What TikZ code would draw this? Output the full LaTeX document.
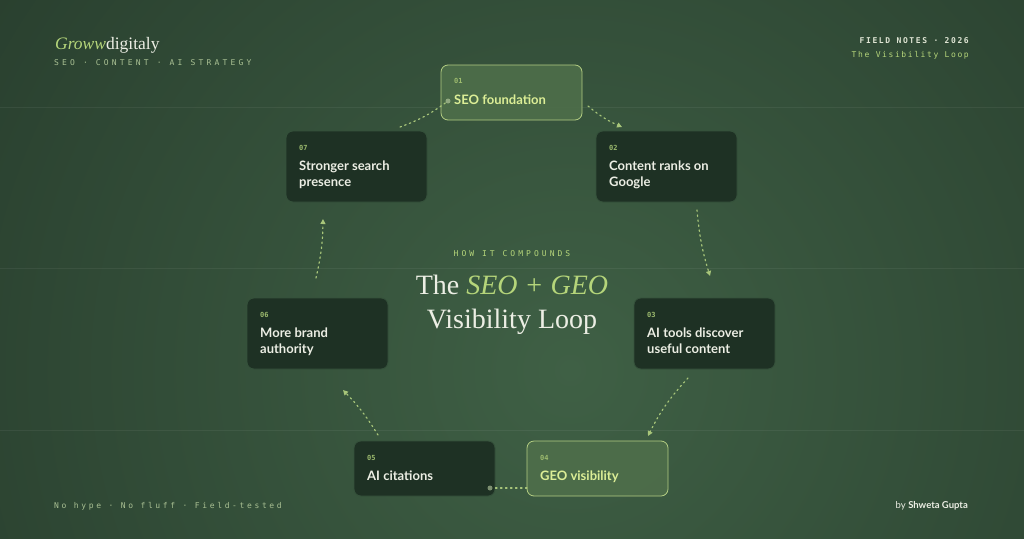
\documentclass[tikz,border=0pt]{standalone}
\usepackage{fontspec}
\setmainfont{Liberation Serif}
\newfontfamily\boxsans{Lato}
\newfontfamily\monoTag[LetterSpace=40]{DejaVu Sans Mono}
\newfontfamily\monoHow[LetterSpace=38]{DejaVu Sans Mono}
\newfontfamily\monoFoot[LetterSpace=33]{DejaVu Sans Mono}
\newfontfamily\monoMid[LetterSpace=20]{DejaVu Sans Mono}
\newfontfamily\monoNum{DejaVu Sans Mono}
\usetikzlibrary{arrows.meta}
\definecolor{bgin}{HTML}{3F6045}
\definecolor{bgout}{HTML}{16231B}
\definecolor{darkfill}{HTML}{1E3124}
\definecolor{darkedge}{HTML}{35513B}
\definecolor{hifill}{HTML}{4E6E4A}
\definecolor{hiedge}{HTML}{B3CD82}
\definecolor{hitext}{HTML}{DCEE96}
\definecolor{accent}{HTML}{B5D57A}
\definecolor{numcol}{HTML}{9DBB6E}
\definecolor{whitish}{HTML}{ECEEE4}
\definecolor{linec}{HTML}{A8C67A}
\definecolor{monocol}{HTML}{A9C093}
\tikzset{
  darkbox/.style={draw=darkedge, fill=darkfill, line width=0.8pt, rounded corners=7pt,
    minimum width=141pt, minimum height=71pt, inner sep=0pt, outer sep=0pt, anchor=north west},
  hibox/.style={draw=hiedge, fill=hifill, fill opacity=0.9, line width=0.8pt, rounded corners=7pt,
    minimum width=141pt, minimum height=55pt, inner sep=0pt, outer sep=0pt, anchor=north west},
  numlbl/.style={anchor=base west, inner sep=0pt, text=numcol, font=\monoNum\bfseries\fontsize{7}{8}\selectfont},
  ttl/.style={anchor=base west, inner sep=0pt, align=left, text=whitish, font=\boxsans\bfseries\fontsize{13}{16}\selectfont},
  hittl/.style={ttl, text=hitext},
  flow/.style={draw=linec, line width=1.2pt, dash pattern=on 1.5pt off 3.5pt, line cap=round},
  tip/.style={-{Triangle[length=5pt,width=5pt]}},
  guide/.style={draw=white, opacity=0.06, line width=0.8pt},
  glow/.style={circle, fill=linec!60!white, inner sep=0pt, minimum size=5pt, opacity=0.55},
}
\begin{document}
\begin{tikzpicture}[x=1pt,y=-1pt]
\useasboundingbox (0,0) rectangle (1024,538);
\begin{scope}
\clip (0,0) rectangle (1024,538);
\shade[inner color=bgin, outer color=bgout] (570,370) circle (1300);
\end{scope}
% faint guide lines
\draw[guide] (0,107) -- (1024,107);
\draw[guide] (0,268) -- (1024,268);
\draw[guide] (0,430) -- (1024,430);

% header / footer texts
\node[anchor=base west, inner sep=0pt, font=\fontsize{17.5}{20}\selectfont] (brand) at (55,49)
  {\textcolor{accent}{\itshape Groww}\textcolor{whitish}{digitaly}};
\node[anchor=base west, inner sep=0pt, text=monocol, font=\monoTag\fontsize{8}{9}\selectfont] (tag) at (54,65)
  {SEO · CONTENT · AI STRATEGY};
\node[anchor=base east, inner sep=0pt, text=whitish!80!monocol, font=\monoMid\bfseries\fontsize{8}{9}\selectfont] (field) at (969,43)
  {FIELD NOTES · 2026};
\node[anchor=base east, inner sep=0pt, text=accent, font=\monoMid\fontsize{8}{9}\selectfont] (vis) at (969,57)
  {The Visibility Loop};
\node[anchor=base, inner sep=0pt, text=accent, font=\monoHow\fontsize{8}{9}\selectfont] (how) at (512,256)
  {HOW IT COMPOUNDS};
\node[anchor=base, inner sep=0pt, text=whitish, font=\fontsize{28}{32}\selectfont] (t1) at (512,294)
  {The \textcolor{accent}{\itshape SEO + GEO}};
\node[anchor=base, inner sep=0pt, text=whitish, font=\fontsize{28}{32}\selectfont] (t2) at (512,328)
  {Visibility Loop};
\node[anchor=base west, inner sep=0pt, text=monocol, font=\monoFoot\fontsize{8}{9}\selectfont] (foot) at (54,508)
  {No hype · No fluff · Field-tested};
\node[anchor=base east, inner sep=0pt, text=whitish, font=\boxsans\fontsize{9.5}{11}\selectfont] (by) at (968,508)
  {by \textbf{Shweta Gupta}};

% boxes
\node[hibox] (n1) at (441,65) {};
\node[darkbox] (n2) at (596,131) {};
\node[darkbox] (n3) at (634,298) {};
\node[hibox] (n4) at (527,441) {};
\node[darkbox, minimum height=55pt] (n5) at (354,441) {};
\node[darkbox] (n6) at (247,298) {};
\node[darkbox] (n7) at (286,131) {};

% box labels (two-line titles are anchored at the last line's baseline)
\node[numlbl] at ([xshift=13pt,yshift=-18pt]n1.north west) {01};
\node[hittl] at ([xshift=13pt,yshift=-39pt]n1.north west) {SEO foundation};
\node[numlbl] at ([xshift=13pt,yshift=-19pt]n2.north west) {02};
\node[ttl] at ([xshift=13pt,yshift=-55pt]n2.north west) {Content ranks on\\Google};
\node[numlbl] at ([xshift=13pt,yshift=-19pt]n3.north west) {03};
\node[ttl] at ([xshift=13pt,yshift=-55pt]n3.north west) {AI tools discover\\useful content};
\node[numlbl] at ([xshift=13pt,yshift=-19pt]n4.north west) {04};
\node[hittl] at ([xshift=13pt,yshift=-39pt]n4.north west) {GEO visibility};
\node[numlbl] at ([xshift=13pt,yshift=-19pt]n5.north west) {05};
\node[ttl] at ([xshift=13pt,yshift=-39pt]n5.north west) {AI citations};
\node[numlbl] at ([xshift=13pt,yshift=-19pt]n6.north west) {06};
\node[ttl] at ([xshift=13pt,yshift=-55pt]n6.north west) {More brand\\authority};
\node[numlbl] at ([xshift=13pt,yshift=-19pt]n7.north west) {07};
\node[ttl] at ([xshift=13pt,yshift=-55pt]n7.north west) {Stronger search\\presence};

% connector end points
\coordinate (a1s) at (588,106);
\coordinate (a1e) at (622,127);
\coordinate (a2s) at (697,210);
\coordinate (a2e) at (710,276);
\coordinate (a3s) at (688,378);
\coordinate (a3e) at (648,436);
\coordinate (a4s) at (527,488);
\node[glow] (d4) at (490,488) {};
\coordinate (a5s) at (378,435);
\coordinate (a5e) at (343,390);
\coordinate (a6s) at (316,278);
\coordinate (a6e) at (323,219);
\coordinate (a7s) at (400,127);
\node[glow] (d7) at (448,101) {};

\draw[flow, tip] (a1s) to[bend right=8] (a1e);
\draw[flow, tip] (a2s) to[bend right=6] (a2e);
\draw[flow, tip] (a3s) to[bend right=8] (a3e);
\draw[flow] (a4s) -- (d4);
\draw[flow, tip] (a5s) to[bend right=6] (a5e);
\draw[flow, tip] (a6s) to[bend right=6] (a6e);
\draw[flow] (a7s) to[bend right=8] (d7);
\end{tikzpicture}
\end{document}
